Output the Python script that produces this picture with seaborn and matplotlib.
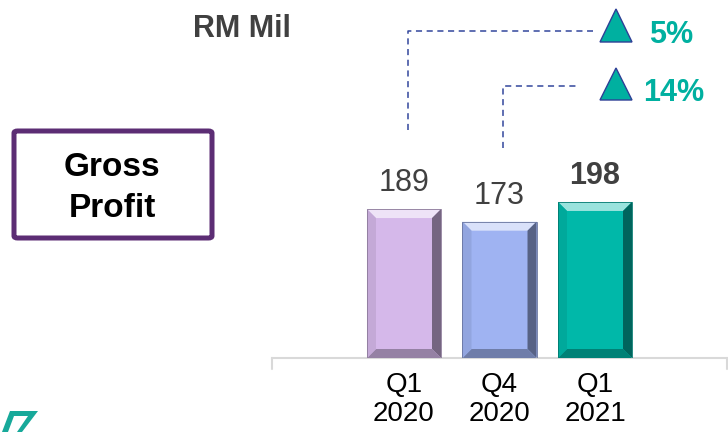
import matplotlib
matplotlib.use("Agg")
import matplotlib.pyplot as plt
import seaborn as sns
import pandas as pd
import numpy as np
from matplotlib.patches import Polygon, FancyBboxPatch
from matplotlib.lines import Line2D
from matplotlib.colors import to_rgb

# ---- data ----
categories = ["Q1\n2020", "Q4\n2020", "Q1\n2021"]
values = [189, 173, 198]
bar_colors = ["#D5B8EA", "#9FB3F2", "#00B8A9"]
growth_labels = ["5%", "14%"]
unit_label = "RM Mil"
title_label = "Gross\nProfit"

sns.set_theme(style="white")
plt.rcParams["font.family"] = ["Liberation Sans", "DejaVu Sans"]

W, H = 728, 432
fig = plt.figure(figsize=(W / 100, H / 100), dpi=100)


def fx(x):
    return x / W


def fy(y):
    return 1 - y / H


base_px = 358
ax = fig.add_axes([fx(272), fy(base_px), (727 - 272) / W, base_px / H])

df = pd.DataFrame({"cat": categories, "val": values})
sns.barplot(data=df, x="cat", y="val", hue="cat", palette=bar_colors,
            legend=False, width=0.775, saturation=1, ax=ax, edgecolor="none")

px_per_unit_y = 0.788
ax.set_ylim(0, base_px / px_per_unit_y)
ax.set_xlim(-1.382, 3.382)
px_per_unit_x = 95.5

# bevel effect
def mix(c, t, a):
    c = np.array(to_rgb(c)); t = np.array(to_rgb(t))
    return tuple(c * (1 - a) + t * a)

b = 9
bx = b / px_per_unit_x
by = b / px_per_unit_y
for p, col in zip(ax.patches, bar_colors):
    x0, w, h = p.get_x(), p.get_width(), p.get_height()
    x1 = x0 + w
    polys = [
        ([(x0, h), (x1, h), (x1 - bx, h - by), (x0 + bx, h - by)], mix(col, "white", 0.6)),
        ([(x1, h), (x1, 0), (x1 - bx, by), (x1 - bx, h - by)], mix(col, "black", 0.45)),
        ([(x0, 0), (x1, 0), (x1 - bx, by), (x0 + bx, by)], mix(col, "black", 0.3)),
        ([(x0, 0), (x0, h), (x0 + bx, h - by), (x0 + bx, by)], mix(col, "black", 0.08)),
    ]
    for verts, c in polys:
        ax.add_patch(Polygon(verts, closed=True, facecolor=c, edgecolor="none", zorder=3))
    ax.add_patch(Polygon([(x0, 0), (x0, h), (x1, h), (x1, 0)], closed=True, fill=False,
                         edgecolor=mix(col, "black", 0.35), lw=0.6, zorder=4))

# value labels
for i, (p, v) in enumerate(zip(ax.patches, values)):
    cx = p.get_x() + p.get_width() / 2
    bold = i == len(values) - 1
    ax.annotate(str(v), (cx, p.get_height()), xytext=(0, 13), textcoords="offset points",
                ha="center", va="baseline", fontsize=22,
                fontweight="bold" if bold else "normal", color="#404040")

# axes styling
for s in ["top", "left", "right"]:
    ax.spines[s].set_visible(False)
ax.spines["bottom"].set_color("#D9D9D9")
ax.spines["bottom"].set_linewidth(1.5)
ax.set_yticks([])
ax.set_xlabel("")
ax.set_ylabel("")
ax.tick_params(axis="x", length=0, pad=10, labelsize=20, labelcolor="black")
for lab in ax.get_xticklabels():
    lab.set_linespacing(1.17)
for xa in (0, 1):
    ax.add_line(Line2D([xa, xa], [0, -11 / base_px], transform=ax.transAxes,
                       color="#D9D9D9", lw=1.5, clip_on=False))

# unit label
fig.text(fx(193), fy(37), unit_label, fontsize=22, fontweight="bold",
         color="#404040", ha="left", va="baseline")

# title box
box = FancyBboxPatch((fx(14), fy(238)), fx(212) - fx(14), fy(131) - fy(238),
                     boxstyle="round,pad=0,rounding_size=0.005",
                     transform=fig.transFigure, facecolor="white",
                     edgecolor="#5C2D74", lw=3.6)
fig.add_artist(box)
fig.text(fx(112), fy(188), title_label, fontsize=24, fontweight="bold",
         color="black", ha="center", va="center", linespacing=1.45)

# dashed connectors
dash_col = "#33479C"
for xs, ys in [([408, 408, 593], [130, 31, 31]), ([503, 503, 578], [148, 86, 86])]:
    fig.add_artist(Line2D([fx(x) for x in xs], [fy(y) for y in ys],
                          transform=fig.transFigure, color=dash_col, lw=1.1,
                          linestyle=(0, (4, 3))))

# triangles and growth labels
teal = "#00B0A0"
for (top, bot), lab, lx in zip([(9, 42), (68, 100)], growth_labels, [649, 643]):
    tri = Polygon([(fx(600), fy(bot)), (fx(632), fy(bot)), (fx(616), fy(top))],
                  closed=True, transform=fig.transFigure, facecolor=teal,
                  edgecolor="#2E3F96", lw=1.0)
    fig.add_artist(tri)
    fig.text(fx(lx), fy(bot + 1), lab, fontsize=22, fontweight="bold",
             color=teal, ha="left", va="baseline")

# logo fragment (bottom-left)
logo = Polygon([(fx(2), fy(432)), (fx(10), fy(411)), (fx(38), fy(411)), (fx(22), fy(432)),
                (fx(17), fy(432)), (fx(28), fy(416)), (fx(14), fy(416)), (fx(8), fy(432))],
               closed=True, transform=fig.transFigure, facecolor="#17A99A", edgecolor="none")
fig.add_artist(logo)

fig.savefig("out.png", dpi=100)
